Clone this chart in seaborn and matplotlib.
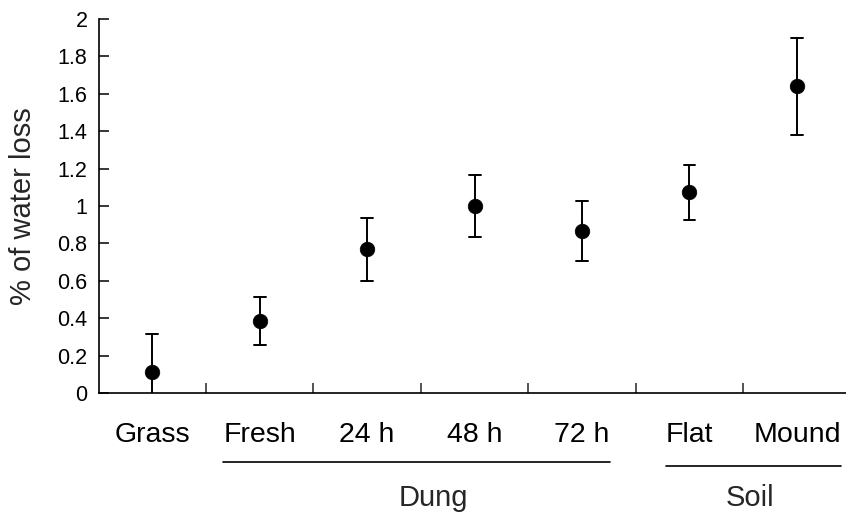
import numpy as np
import pandas as pd
import matplotlib
matplotlib.use("Agg")
import matplotlib.pyplot as plt
import matplotlib.transforms as mtransforms
import seaborn as sns

# === DATA ===
CATEGORIES = ["Grass", "Fresh", "24 h", "48 h", "72 h", "Flat", "Mound"]
MEAN_LOSS = [0.11, 0.385, 0.77, 1.00, 0.865, 1.075, 1.64]
LOWER = [-0.10, 0.255, 0.60, 0.835, 0.705, 0.925, 1.38]
UPPER = [0.315, 0.515, 0.935, 1.165, 1.025, 1.22, 1.90]
GROUPS = ["Dung", "Soil"]
GROUP_MEMBERS = [["Fresh", "24 h", "48 h", "72 h"], ["Flat", "Mound"]]
YTICKS = [0, 0.2, 0.4, 0.6, 0.8, 1, 1.2, 1.4, 1.6, 1.8, 2]

# === LAYOUT ===
W, H = 846, 514
GROUP_LINE_Y = [-0.184, -0.196]     # axes coords
GROUP_LABEL_X = [2.62, 5.56]        # data coords
GROUP_LABEL_Y = -0.301

sns.set_theme(style="ticks")
plt.rcParams["font.family"] = ["Liberation Sans", "DejaVu Sans"]

# long form: median of (lower, mean, upper) is the point, min/max the bar
rows = []
for cat, lo, m, hi in zip(CATEGORIES, LOWER, MEAN_LOSS, UPPER):
    for v in (lo, m, hi):
        rows.append({"category": cat, "value": v})
df = pd.DataFrame(rows)

fig = plt.figure(figsize=(W / 100, H / 100), dpi=100)
ax = fig.add_axes([98.6 / W, 121 / H, 752 / W, 374 / H])

sns.pointplot(
    data=df, x="category", y="value", order=CATEGORIES,
    estimator="median", errorbar=("pi", 100),
    color="black", linestyle="none", marker="o", markersize=10.5,
    markeredgewidth=0.5, capsize=0.11, err_kws={"linewidth": 1.4},
    ax=ax,
)

ax.set_xlim(-0.5, len(CATEGORIES) - 0.5)
ax.set_ylim(0, 2)
ax.set_yticks(YTICKS)
ax.set_yticklabels([f"{v:g}" for v in YTICKS])
ax.set_xlabel("")
ax.set_ylabel("% of water loss", fontsize=21, labelpad=15)

ax.set_xticks(np.arange(len(CATEGORIES) - 1) + 0.5, minor=True)
ax.tick_params(axis="y", direction="in", length=7.2, width=1.1, labelsize=15.5, pad=8, colors="black")
ax.tick_params(axis="x", which="major", length=0, labelsize=20.5, pad=21, colors="black")
ax.tick_params(axis="x", which="minor", direction="in", length=7.2, width=1.1)
sns.despine(ax=ax)
for s in ["left", "bottom"]:
    ax.spines[s].set_linewidth(1.2)
    ax.spines[s].set_color("black")

# group underlines spanning the tick labels of each group
fig.canvas.draw()
renderer = fig.canvas.get_renderer()
labels = {t.get_text(): t for t in ax.get_xticklabels()}
inv = ax.transData.inverted()
trans = mtransforms.blended_transform_factory(ax.transData, ax.transAxes)
for name, members, ly, lx in zip(GROUPS, GROUP_MEMBERS, GROUP_LINE_Y, GROUP_LABEL_X):
    x0 = labels[members[0]].get_window_extent(renderer).x0
    x1 = labels[members[-1]].get_window_extent(renderer).x1
    d0 = inv.transform((x0, 0))[0]
    d1 = inv.transform((x1, 0))[0]
    ax.plot([d0, d1], [ly, ly], color="black", linewidth=1.2,
            transform=trans, clip_on=False)
    ax.text(lx, GROUP_LABEL_Y, name, transform=trans, ha="center", va="baseline",
            fontsize=21)

fig.savefig("out.png", dpi=100)
